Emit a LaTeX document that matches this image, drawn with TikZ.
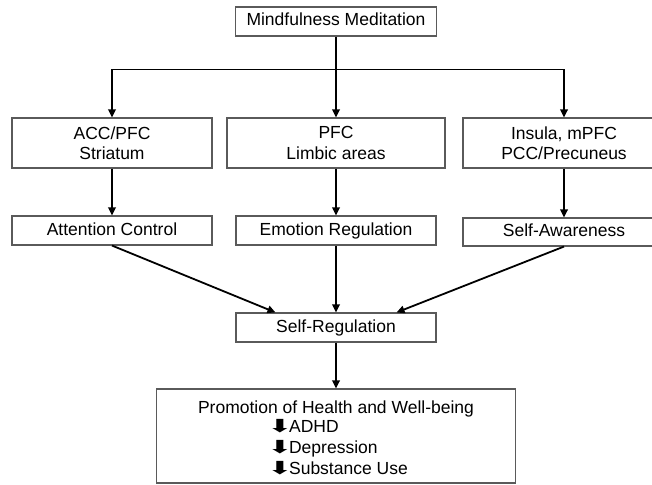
\documentclass[tikz,border=0pt]{standalone}
\usepackage{fontspec}
\setmainfont{Liberation Sans}
\newfontfamily\arrowfont{DejaVu Sans}
\usetikzlibrary{arrows.meta,positioning,calc}
\definecolor{boxgray}{RGB}{90,90,90}
\tikzset{
  box/.style={draw=boxgray, line width=1.1pt, inner sep=2pt, align=center,
    font=\fontsize{17.5}{20.5}\selectfont},
  oneline/.style={text height=12.5pt, text depth=3.5pt},
  link/.style={line width=1.8pt, -{Triangle[length=8pt,width=7.5pt]}},
}
\newcommand{\dnarrow}{\smash{\scalebox{1.7}[1]{\arrowfont\fontsize{18}{20}\selectfont\kern-0.6pt⬇\kern-2.2pt}}}

\begin{document}
\begin{tikzpicture}[x=1pt,y=-1pt]
  \useasboundingbox (0,0) rectangle (652,484);
  % Top
  \node[box, oneline, minimum width=201pt, minimum height=29pt] (mm) at (336,21.5) {Mindfulness Meditation};
  % Brain regions
  \node[box, minimum width=200pt, minimum height=50pt] (accpfc) at (112,143) {ACC/PFC\\Striatum};
  \node[box, minimum width=218pt, minimum height=50pt] (pfc) at (336,143) {PFC\\Limbic areas};
  \node[box, minimum width=202pt, minimum height=50pt] (insula) at (564,143) {Insula, mPFC\\PCC/Precuneus};
  % Functions
  \node[box, oneline, minimum width=200pt, minimum height=29pt] (attn) at (112,230.5) {Attention Control};
  \node[box, oneline, minimum width=200pt, minimum height=29pt] (emo) at (336,230.5) {Emotion Regulation};
  \node[box, oneline, minimum width=202pt, minimum height=28pt] (selfaw) at (564,232) {Self-Awareness};
  % Outcome
  \node[box, oneline, minimum width=200pt, minimum height=29pt] (selfreg) at (336,327.5) {Self-Regulation};
  \node[box, minimum width=359pt, minimum height=92pt] (health) at (336,436)
    {\rule{0pt}{22pt}Promotion of Health and Well-being\\
     \hspace*{4pt}\renewcommand\arraystretch{1.03}\begin{tabular}{@{}l@{}}\dnarrow ADHD\\ \dnarrow Depression\\ \dnarrow Substance Use\end{tabular}};
  % Branching
  \path (mm.south) ++(0,33) coordinate (split);
  \draw[line width=1.8pt] (mm.south) -- (split);
  \draw[link] (split) -| (accpfc.north);
  \draw[link] (split) -- (pfc.north);
  \draw[link] (split) -| (insula.north);
  % Regions to functions
  \draw[link] (accpfc.south) -- (attn.north);
  \draw[link] (pfc.south) -- (emo.north);
  \draw[link] (insula.south) -- (selfaw.north);
  % Functions to self-regulation
  \coordinate (inl) at ($(selfreg.north west)+(40,0)$);
  \coordinate (inr) at ($(selfreg.north east)+(-40,0)$);
  \draw[link] (attn.south) -- (inl);
  \draw[link] (emo.south) -- (selfreg.north);
  \draw[link] (selfaw.south) -- (inr);
  \draw[link] (selfreg.south) -- (health.north);
\end{tikzpicture}
\end{document}
